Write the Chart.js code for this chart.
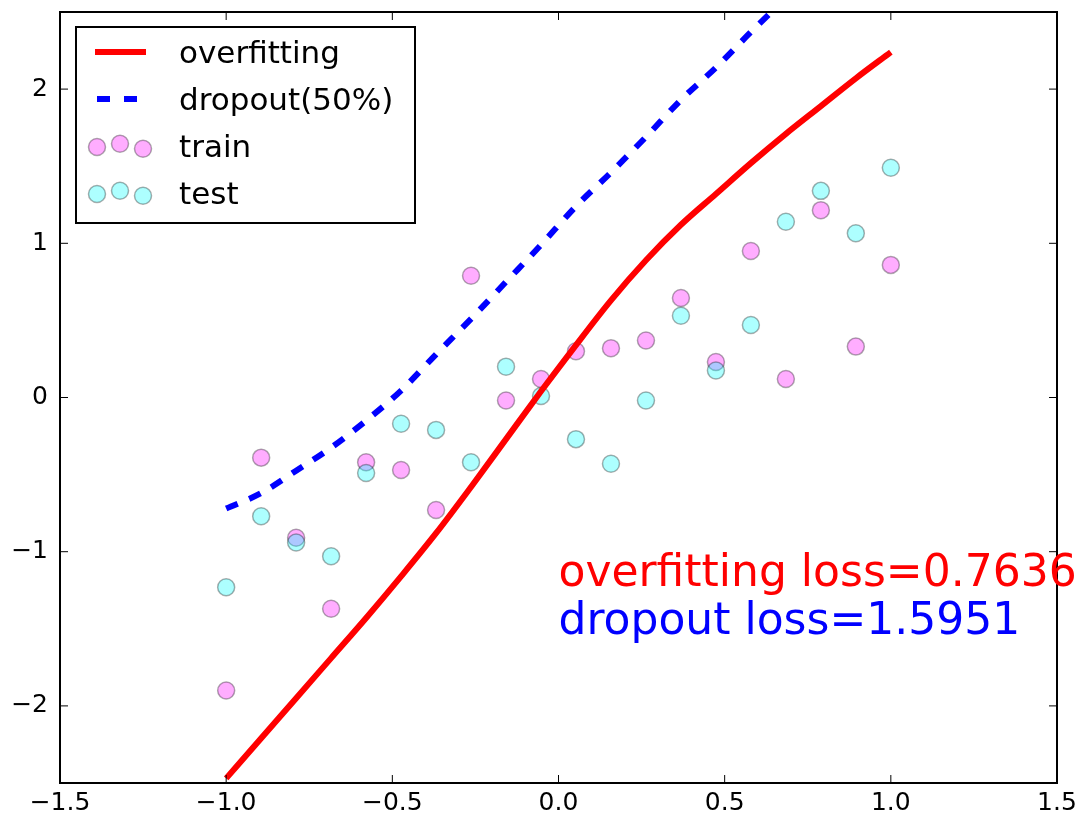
<!DOCTYPE html>
<html>
<head>
<meta charset="utf-8">
<script src="https://cdn.jsdelivr.net/npm/chart.js@4.4.0/dist/chart.umd.min.js"></script>
<style>
  html, body { margin: 0; padding: 0; background: #fff; }
  #wrap { width: 1089px; height: 822px; }
</style>
</head>
<body>
<div id="wrap"><canvas id="graphDropout"></canvas></div>
<script>
// Données
const xPoints = [-1.0, -0.8947, -0.7895, -0.6842, -0.5789, -0.4737, -0.3684, -0.2632, -0.1579, -0.0526,
                 0.0526, 0.1579, 0.2632, 0.3684, 0.4737, 0.5789, 0.6842, 0.7895, 0.8947, 1.0];
const trainY = [-1.90, -0.39, -0.91, -1.37, -0.42, -0.47, -0.73, 0.79, -0.02, 0.12,
                0.30, 0.32, 0.37, 0.645, 0.23, 0.95, 0.12, 1.215, 0.33, 0.86];
const testY = [-1.23, -0.77, -0.94, -1.03, -0.49, -0.17, -0.21, -0.42, 0.20, 0.01,
               -0.27, -0.43, -0.02, 0.53, 0.175, 0.47, 1.14, 1.34, 1.065, 1.49];
const overfitY = [-2.47, -2.21, -1.95, -1.69, -1.43, -1.16, -0.88, -0.58, -0.27, 0.04,
                  0.34, 0.63, 0.89, 1.12, 1.32, 1.52, 1.71, 1.89, 2.07, 2.24];
const dropoutY = [-0.72, -0.62, -0.475, -0.325, -0.15, 0.045, 0.28, 0.51, 0.75, 0.99,
                  1.24, 1.46, 1.69, 1.93, 2.14, 2.37, 2.59, 2.80, 3.00, 3.19];
const xTicks = [-1.5, -1.0, -0.5, 0.0, 0.5, 1.0, 1.5];
const yTicks = [-2, -1, 0, 1, 2];
const seriesLabels = ['overfitting', 'dropout(50%)', 'train', 'test'];
const lossTexts = ['overfitting loss=0.7636', 'dropout loss=1.5951'];

const FONT = 'DejaVu Sans';
const toXY = ys => xPoints.map((x, i) => ({ x: x, y: ys[i] }));
const minus = v => (v < 0 ? '\u2212' : '') + Math.abs(v);

// axes à la matplotlib : cadre + graduations vers l'intérieur + légende + textes
const mplPlugin = {
  id: 'mpl',
  afterDraw(chart) {
    const ctx = chart.ctx;
    const a = chart.chartArea;
    const xs = chart.scales.x, ys = chart.scales.y;
    ctx.save();
    ctx.strokeStyle = '#000';
    ctx.lineWidth = 1;
    ctx.beginPath();
    xTicks.forEach(v => {
      const px = xs.getPixelForValue(v);
      ctx.moveTo(px, a.bottom); ctx.lineTo(px, a.bottom - 8);
      ctx.moveTo(px, a.top); ctx.lineTo(px, a.top + 8);
    });
    yTicks.forEach(v => {
      const py = ys.getPixelForValue(v);
      ctx.moveTo(a.left, py); ctx.lineTo(a.left + 8, py);
      ctx.moveTo(a.right, py); ctx.lineTo(a.right - 8, py);
    });
    ctx.stroke();
    ctx.lineWidth = 2;
    ctx.strokeRect(a.left, a.top, a.right - a.left, a.bottom - a.top);

    // textes de loss
    ctx.font = '44px "' + FONT + '"';
    ctx.textBaseline = 'alphabetic';
    ctx.textAlign = 'left';
    ctx.fillStyle = 'red';
    ctx.fillText(lossTexts[0], xs.getPixelForValue(0), ys.getPixelForValue(-1.22));
    ctx.fillStyle = 'blue';
    ctx.fillText(lossTexts[1], xs.getPixelForValue(0), ys.getPixelForValue(-1.535));

    // légende
    const lx = a.left + 16, ly = a.top + 15;
    ctx.fillStyle = '#fff';
    ctx.fillRect(lx, ly, 339, 196);
    ctx.lineWidth = 2;
    ctx.strokeStyle = '#000';
    ctx.strokeRect(lx, ly, 339, 196);
    ctx.font = '31px "' + FONT + '"';
    chart.data.datasets.forEach((ds, i) => {
      const cy = ly + 25 + i * 47;
      if (ds.type === 'line') {
        ctx.save();
        ctx.strokeStyle = ds.borderColor;
        ctx.lineWidth = ds.borderWidth;
        ctx.setLineDash(ds.borderDash ? [13, 14] : []);
        ctx.beginPath();
        ctx.moveTo(lx + (ds.borderDash ? 21 : 19), cy);
        ctx.lineTo(lx + 70, cy);
        ctx.stroke();
        ctx.restore();
      } else {
        [[21, 1], [44, -2.3], [67, 2.7]].forEach(([dx, dy]) => {
          ctx.beginPath();
          ctx.arc(lx + dx, cy + dy, ds.pointRadius, 0, Math.PI * 2);
          ctx.fillStyle = '#fff';
          ctx.fill();
          ctx.fillStyle = ds.backgroundColor;
          ctx.fill();
          ctx.lineWidth = ds.borderWidth;
          ctx.strokeStyle = ds.borderColor;
          ctx.stroke();
        });
      }
      ctx.fillStyle = '#000';
      ctx.fillText(ds.label, lx + 103, cy + 11);
    });
    ctx.restore();
  }
};

const chartDropout = new Chart(document.getElementById('graphDropout').getContext('2d'), {
  data: {
    datasets: [
      {
        type: 'line',
        label: seriesLabels[0],
        data: toXY(overfitY),
        borderColor: 'rgb(255, 0, 0)',
        borderWidth: 6,
        pointRadius: 0,
        cubicInterpolationMode: 'monotone',
        clip: 0,
        order: 0
      },
      {
        type: 'line',
        label: seriesLabels[1],
        data: toXY(dropoutY),
        borderColor: 'rgb(0, 0, 255)',
        borderWidth: 6,
        borderDash: [12.5, 12.5],
        borderCapStyle: 'butt',
        pointRadius: 0,
        cubicInterpolationMode: 'monotone',
        clip: 0,
        order: 1
      },
      {
        type: 'scatter',
        label: seriesLabels[2],
        data: toXY(trainY),
        backgroundColor: 'rgba(255, 0, 255, 0.32)',
        borderColor: 'rgba(0, 0, 0, 0.32)',
        borderWidth: 1.5,
        pointRadius: 8.5,
        pointHoverRadius: 8.5,
        order: 3
      },
      {
        type: 'scatter',
        label: seriesLabels[3],
        data: toXY(testY),
        backgroundColor: 'rgba(0, 255, 255, 0.32)',
        borderColor: 'rgba(0, 0, 0, 0.32)',
        borderWidth: 1.5,
        pointRadius: 8.5,
        pointHoverRadius: 8.5,
        order: 2
      }
    ]
  },
  options: {
    responsive: true,
    maintainAspectRatio: false,
    animation: false,
    layout: { padding: { top: 12, right: 32, left: 0, bottom: 0 } },
    scales: {
      x: {
        type: 'linear',
        min: -1.5,
        max: 1.5,
        afterBuildTicks: s => { s.ticks = xTicks.map(v => ({ value: v })); },
        afterFit: s => { s.height = 39; s.paddingLeft = 0; s.paddingRight = 0; },
        grid: { display: false, drawTicks: false },
        border: { display: false },
        ticks: {
          color: '#000',
          font: { family: FONT, size: 25 },
          padding: 5,
          maxRotation: 0,
          autoSkip: false,
          callback: v => (v < 0 ? '\u2212' : '') + Math.abs(v).toFixed(1)
        }
      },
      y: {
        type: 'linear',
        min: -2.5,
        max: 2.5,
        afterBuildTicks: s => { s.ticks = yTicks.map(v => ({ value: v })); },
        afterFit: s => { s.width = 60; s.paddingTop = 0; s.paddingBottom = 0; },
        grid: { display: false, drawTicks: false },
        border: { display: false },
        ticks: {
          color: '#000',
          font: { family: FONT, size: 25 },
          padding: 12,
          autoSkip: false,
          callback: v => minus(v)
        }
      }
    },
    plugins: {
      legend: { display: false },
      tooltip: { enabled: false }
    }
  },
  plugins: [mplPlugin]
});
</script>
</body>
</html>
